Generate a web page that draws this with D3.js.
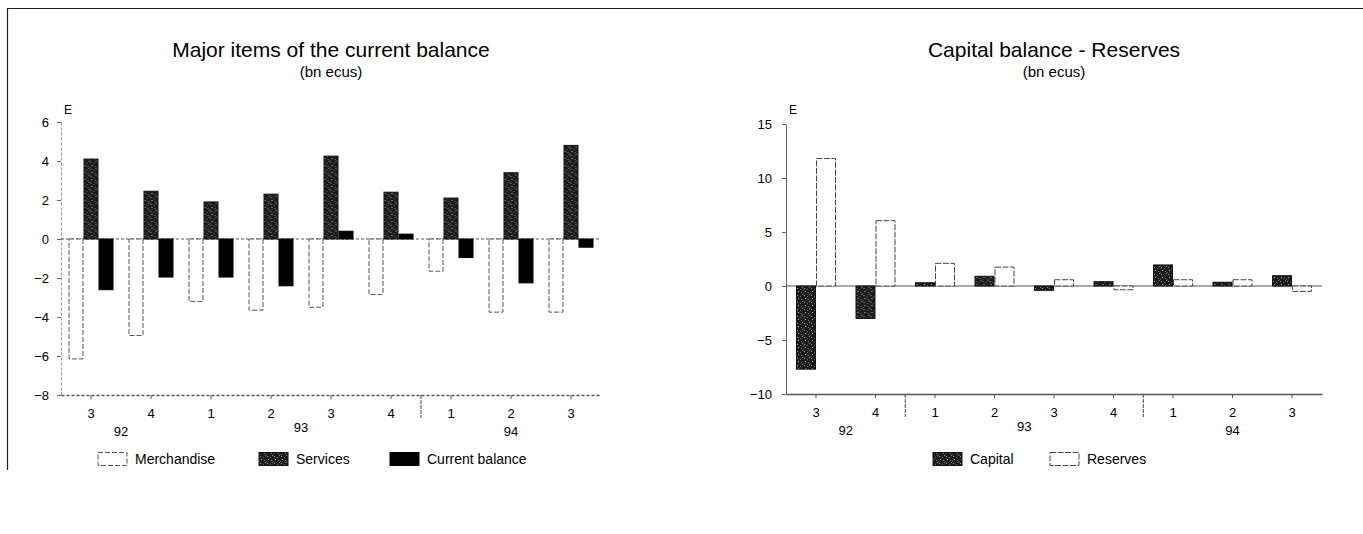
<!DOCTYPE html>
<html>
<head>
<meta charset="utf-8">
<script src="https://cdn.jsdelivr.net/npm/d3@7"></script>
<style>
  body { margin: 0; background: #fff; }
  svg { display: block; font-family: "Liberation Sans", Arial, sans-serif; }
</style>
</head>
<body>
<div class="charts"></div>
<script>
// quarters 92Q3 .. 94Q3
var quarters = ["3", "4", "1", "2", "3", "4", "1", "2", "3"];
var years = ["92", "92", "93", "93", "93", "93", "94", "94", "94"];

// left chart: major items of the current balance (bn ecus)
var merchandise = [-6.15, -4.95, -3.2, -3.65, -3.5, -2.85, -1.65, -3.75, -3.75];
var services = [4.1, 2.45, 1.9, 2.3, 4.25, 2.4, 2.1, 3.4, 4.8];
var currentBalance = [-2.6, -1.95, -1.95, -2.4, 0.4, 0.25, -0.95, -2.25, -0.42];
var leftTicks = [-8, -6, -4, -2, 0, 2, 4, 6];

// right chart: capital balance - reserves (bn ecus)
var capital = [-7.7, -3.0, 0.3, 0.9, -0.4, 0.4, 1.95, 0.35, 0.95];
var reserves = [11.8, 6.05, 2.1, 1.75, 0.58, -0.35, 0.58, 0.58, -0.5];
var rightTicks = [-10, -5, 0, 5, 10, 15];

var svg = d3.select(".charts").append("svg")
    .attr("width", 1363)
    .attr("height", 534);

// speckled dark fill used for services / capital
var defs = svg.append("defs");
var pat = defs.append("pattern")
    .attr("id", "speckle")
    .attr("patternUnits", "userSpaceOnUse")
    .attr("width", 7).attr("height", 7);
pat.append("rect").attr("width", 7).attr("height", 7).attr("fill", "#1c1c1c");
[[1, 1, "#9a9a9a"], [4, 2, "#666"], [2, 4, "#bbb"], [5, 5, "#777"], [0, 6, "#555"], [6, 0, "#888"]]
    .forEach(function(p) {
        pat.append("rect").attr("x", p[0]).attr("y", p[1])
            .attr("width", 1).attr("height", 1).attr("fill", p[2]);
    });

// frame (top + left edge of the scanned page)
svg.append("line").attr("x1", 7).attr("x2", 1363).attr("y1", 8.5).attr("y2", 8.5)
    .attr("stroke", "#222").attr("stroke-width", 1.2);
svg.append("line").attr("x1", 7.5).attr("x2", 7.5).attr("y1", 8).attr("y2", 470)
    .attr("stroke", "#222").attr("stroke-width", 1.2);

var seriesStyles = {
    merchandise: {fill: "#fff", stroke: "#555", dash: "5,2"},
    services: {fill: "url(#speckle)", stroke: "#111", dash: null},
    current: {fill: "#000", stroke: "#000", dash: null},
    capital: {fill: "url(#speckle)", stroke: "#111", dash: null},
    reserves: {fill: "#fff", stroke: "#444", dash: "6,1.5"}
};

function drawChart(cfg) {
    var g = svg.append("g");
    var rows = quarters.map(function(q, i) {
        var r = {key: i, q: q, year: years[i]};
        cfg.series.forEach(function(s) { r[s.name] = s.values[i]; });
        return r;
    });

    var x0 = d3.scaleBand()
        .domain(d3.range(quarters.length))
        .range(cfg.xRange)
        .paddingInner(cfg.padInner)
        .paddingOuter(cfg.padOuter);
    var x1 = d3.scaleBand()
        .domain(cfg.series.map(function(s) { return s.name; }))
        .range([0, x0.bandwidth()]);
    var y = d3.scaleLinear().domain(cfg.yDomain).range(cfg.yRange);

    var cx = function(i) { return x0(i) + x0.bandwidth() / 2; };
    var bottom = y(cfg.yDomain[0]);

    // titles
    var mid = (cfg.xRange[0] + cfg.xRange[1]) / 2;
    g.append("text").attr("x", mid).attr("y", 57)
        .attr("text-anchor", "middle").attr("font-size", 21).text(cfg.title);
    g.append("text").attr("x", mid).attr("y", 77)
        .attr("text-anchor", "middle").attr("font-size", 15).text("(bn ecus)");

    // y axis
    var yAxis = g.append("g")
        .attr("transform", "translate(" + cfg.xRange[0] + ",0)")
        .call(d3.axisLeft(y).tickValues(cfg.ticks).tickSize(4).tickPadding(cfg.tickPad).tickSizeOuter(0));
    yAxis.select(".domain").attr("stroke", cfg.axisColor).attr("stroke-dasharray", cfg.axisDash);
    yAxis.selectAll(".tick line").attr("stroke", "#666");
    yAxis.selectAll("text").attr("font-size", 13).attr("fill", "#000")
        .attr("font-family", "Liberation Sans, Arial, sans-serif");
    g.append("text").attr("x", cfg.xRange[0] + 3).attr("y", 114)
        .attr("font-size", 12).text("E");

    // zero line
    g.append("line")
        .attr("x1", cfg.xRange[0]).attr("x2", cfg.xRange[1])
        .attr("y1", y(0)).attr("y2", y(0))
        .attr("stroke", "#555").attr("stroke-dasharray", cfg.zeroDash);

    // bars
    var groups = g.selectAll(".grp")
        .data(rows)
        .enter().append("g")
        .attr("class", "grp")
        .attr("transform", function(d) { return "translate(" + x0(d.key) + ",0)"; });

    groups.selectAll("rect")
        .data(function(d) {
            return cfg.series.map(function(s) { return {name: s.name, value: d[s.name]}; });
        })
        .enter().append("rect")
        .attr("x", function(d) { return x1(d.name) + 0.5; })
        .attr("width", x1.bandwidth() - 1)
        .attr("y", function(d) { return y(Math.max(0, d.value)); })
        .attr("height", function(d) { return Math.abs(y(d.value) - y(0)); })
        .attr("fill", function(d) { return seriesStyles[d.name].fill; })
        .attr("stroke", function(d) { return seriesStyles[d.name].stroke; })
        .attr("stroke-width", 1)
        .attr("stroke-dasharray", function(d) { return seriesStyles[d.name].dash; });

    // x axis (quarters)
    var xAxis = g.append("g")
        .attr("transform", "translate(0," + bottom + ")")
        .call(d3.axisBottom(x0).tickSize(4).tickPadding(10).tickSizeOuter(0)
            .tickFormat(function(i) { return quarters[i]; }));
    xAxis.select(".domain").attr("stroke", "#555").attr("stroke-width", 1.3)
        .attr("stroke-dasharray", cfg.axisDash);
    xAxis.selectAll(".tick line").attr("stroke", "#555");
    xAxis.selectAll("text").attr("font-size", 13).attr("fill", "#000")
        .attr("font-family", "Liberation Sans, Arial, sans-serif");

    // year separators and labels
    var yearNames = Array.from(new Set(years));
    yearNames.forEach(function(yr, k) {
        var idx = d3.range(years.length).filter(function(i) { return years[i] === yr; });
        var xm = d3.mean(idx, cx);
        g.append("text").attr("x", xm).attr("y", bottom + 41 - (k === 1 ? 4 : 0))
            .attr("text-anchor", "middle").attr("font-size", 13).text(yr);
        if (k > 0 && cfg.separators.indexOf(yr) >= 0) {
            var xs = (cx(idx[0] - 1) + cx(idx[0])) / 2;
            g.append("line").attr("x1", xs).attr("x2", xs)
                .attr("y1", bottom).attr("y2", bottom + 23)
                .attr("stroke", "#444").attr("stroke-dasharray", "4,1");
        }
    });

    // legend
    cfg.legend.forEach(function(l) {
        var st = seriesStyles[l.name];
        g.append("rect").attr("x", l.x).attr("y", 452.5)
            .attr("width", 29).attr("height", 13)
            .attr("fill", st.fill).attr("stroke", st.stroke)
            .attr("stroke-dasharray", st.dash);
        g.append("text").attr("x", l.x + 37).attr("y", 464)
            .attr("font-size", 14).text(l.label);
    });
}

drawChart({
    title: "Major items of the current balance",
    series: [
        {name: "merchandise", values: merchandise},
        {name: "services", values: services},
        {name: "current", values: currentBalance}
    ],
    xRange: [61, 601], padInner: 0.25, padOuter: 0.125,
    yDomain: [-8, 6], yRange: [395, 122],
    ticks: leftTicks, tickPad: 8,
    axisColor: "#999", axisDash: "3,2", zeroDash: "3,2",
    separators: ["94"],
    legend: [
        {name: "merchandise", label: "Merchandise", x: 98},
        {name: "services", label: "Services", x: 259},
        {name: "current", label: "Current balance", x: 390}
    ]
});

drawChart({
    title: "Capital balance - Reserves",
    series: [
        {name: "capital", values: capital},
        {name: "reserves", values: reserves}
    ],
    xRange: [786, 1322], padInner: 0.328, padOuter: 0.168,
    yDomain: [-10, 15], yRange: [394, 124],
    ticks: rightTicks, tickPad: 10,
    axisColor: "#666", axisDash: null, zeroDash: null,
    separators: ["93", "94"],
    legend: [
        {name: "capital", label: "Capital", x: 933},
        {name: "reserves", label: "Reserves", x: 1050}
    ]
});
</script>
</body>
</html>
